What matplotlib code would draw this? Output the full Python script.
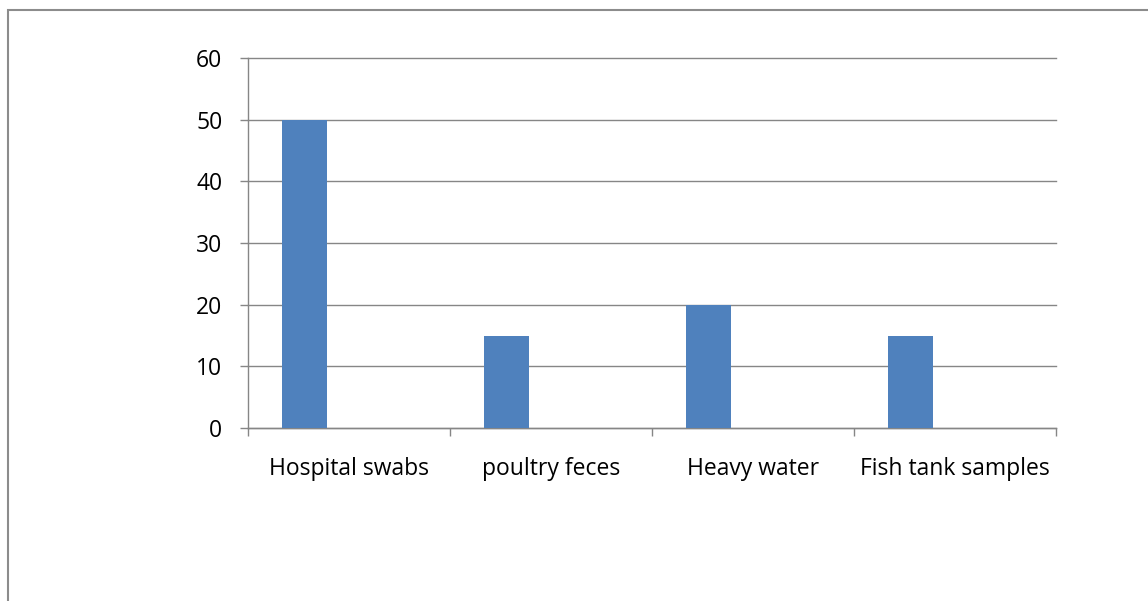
import matplotlib.pyplot as plt
from matplotlib.patches import Rectangle
import numpy as np

# sample sources and counts
categories = ['Hospital swabs', 'poultry feces', 'Heavy water', 'Fish tank samples']
values = [50, 15, 20, 15]
yticks = [0, 10, 20, 30, 40, 50, 60]

plt.rcParams['font.family'] = ['Open Sans', 'DejaVu Sans']

fig = plt.figure(figsize=(11.48, 6.01), dpi=100)
ax = fig.add_axes([248 / 1148, 173 / 601, 808 / 1148, 370 / 601])

grid_col = '#868686'
x = np.arange(len(categories))
ax.bar(x + 0.279, values, width=0.221, color='#4F81BD', zorder=3)

ax.set_xlim(0, len(categories))
ax.set_ylim(0, 60)
ax.set_yticks(yticks)
ax.yaxis.grid(True, color=grid_col, linewidth=1)
for gl in ax.yaxis.get_gridlines():
    gl.set_clip_on(False)
ax.set_axisbelow(True)

# category boundaries as ticks, labels centered between
ax.set_xticks(np.arange(len(categories) + 1))
ax.set_xticklabels([])
ax.set_xticks(x + 0.5, minor=True)
ax.set_xticklabels(categories, minor=True)
ax.tick_params(axis='x', which='major', length=6, color=grid_col, width=1)
ax.tick_params(axis='x', which='minor', length=0, pad=21, labelsize=16.5)
ax.tick_params(axis='y', length=6, color=grid_col, width=1, pad=12.5, labelsize=16.5)

for s in ['top', 'right']:
    ax.spines[s].set_visible(False)
for s in ['left', 'bottom']:
    ax.spines[s].set_color(grid_col)
    ax.spines[s].set_linewidth(1)

# outer chart frame
fig.patches.append(Rectangle((8 / 1148, -0.1), 1.2, (601 - 10) / 601 + 0.1,
                             transform=fig.transFigure, fill=False,
                             edgecolor='#8c8c8c', linewidth=1.5))

fig.savefig('out.png', dpi=100)
